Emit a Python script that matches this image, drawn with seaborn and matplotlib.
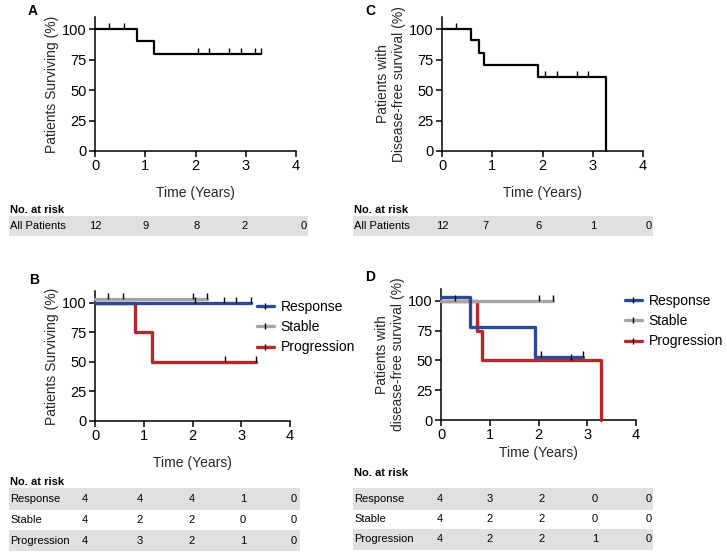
import matplotlib
matplotlib.use("Agg")
import matplotlib.pyplot as plt
import numpy as np
import pandas as pd
import seaborn as sns
from matplotlib.lines import Line2D
from matplotlib.patches import Rectangle

W, H = 727, 557

# ---- data ----
GROUPS = ["Response", "Stable", "Progression"]
COLORS = {"Response": "#2e4a94", "Stable": "#a6a6a6", "Progression": "#b5282a"}

# A: overall survival, all patients
a_time = [0, 0.83, 1.17, 3.3]
a_surv = [100, 90, 80, 80]
a_cens_time = [0.27, 0.58, 2.04, 2.27, 2.66, 2.9, 3.18, 3.3]
a_cens_surv = [100, 100, 80, 80, 80, 80, 80, 80]
a_risk = [12, 9, 8, 2, 0]

# C: disease-free survival, all patients
c_time = [0, 0.58, 0.73, 0.84, 1.92, 3.27]
c_surv = [100, 90.9, 80.8, 70.7, 60.6, 0]
c_cens_time = [0.28, 2.05, 2.28, 2.68, 2.9]
c_cens_surv = [100, 60.6, 60.6, 60.6, 60.6]
c_risk = [12, 7, 6, 1, 0]

# B: overall survival by response
b_time = {"Response": [0, 3.19], "Stable": [0, 2.29],
          "Progression": [0, 0.83, 1.17, 3.31]}
b_surv = {"Response": [100, 100], "Stable": [100, 100],
          "Progression": [100, 75, 50, 50]}
b_cens_time = {"Response": [2.05, 2.64, 2.9, 3.19],
               "Stable": [0.27, 0.58, 2.0, 2.29],
               "Progression": [2.67, 3.31]}
b_cens_surv = {"Response": [100, 100, 100, 100],
               "Stable": [100, 100, 100, 100],
               "Progression": [50, 50]}
b_risk = {"Response": [4, 4, 4, 1, 0], "Stable": [4, 2, 2, 0, 0],
          "Progression": [4, 3, 2, 1, 0]}

# D: disease-free survival by response
d_time = {"Response": [0, 0.59, 1.93, 2.91], "Stable": [0, 2.29],
          "Progression": [0, 0.73, 0.84, 3.28]}
d_surv = {"Response": [100, 75, 50, 50], "Stable": [100, 100],
          "Progression": [100, 75, 50, 0]}
d_cens_time = {"Response": [2.05, 2.91], "Stable": [0.29, 2.02, 2.29],
               "Progression": [2.67]}
d_cens_surv = {"Response": [50, 50], "Stable": [100, 100, 100],
               "Progression": [50]}
d_risk = {"Response": [4, 3, 2, 0, 0], "Stable": [4, 2, 2, 0, 0],
          "Progression": [4, 2, 2, 1, 0]}

# small vertical nudge so overlapping curves stay visible (as in the original)
b_offset = {"Response": 0, "Stable": 3, "Progression": 0}
d_offset = {"Response": 3, "Stable": 0, "Progression": 0}

# ---- style ----
sns.set_theme(style="ticks")
plt.rcParams["font.family"] = ["Liberation Sans", "DejaVu Sans"]
plt.rcParams.update({
    "axes.linewidth": 1.1,
    "xtick.major.width": 1.1, "ytick.major.width": 1.1,
    "xtick.major.size": 4, "ytick.major.size": 4,
    "xtick.labelsize": 10.5, "ytick.labelsize": 10.5,
    "axes.labelsize": 10,
    "xtick.color": "black", "ytick.color": "black",
    "axes.edgecolor": "black", "text.color": "black",
})

fig = plt.figure(figsize=(W / 100, H / 100), dpi=100)


def px_axes(left, top, right, bottom):
    return fig.add_axes([left / W, 1 - bottom / H,
                         (right - left) / W, (bottom - top) / H])


def style_km(ax, ylabel):
    ax.set_xlim(0, 4)
    ax.set_ylim(0, 110)
    ax.set_xticks(range(5))
    ax.set_yticks([0, 25, 50, 75, 100])
    ax.set_xlabel("Time (Years)", labelpad=9)
    ax.set_ylabel(ylabel, labelpad=2)
    ax.tick_params(pad=2)
    sns.despine(ax=ax)


def km(ax, t, s, ct, cs, color, lw, off=0):
    df = pd.DataFrame({"t": t, "s": np.array(s) + off})
    sns.lineplot(data=df, x="t", y="s", ax=ax, color=color, lw=lw,
                 drawstyle="steps-post", estimator=None, sort=False,
                 clip_on=False, zorder=3)
    cdf = pd.DataFrame({"t": ct, "s": np.array(cs) + off})
    sns.scatterplot(data=cdf, x="t", y="s", ax=ax, marker=2, s=16,
                    color="black", linewidth=1.0, clip_on=False, zorder=4)


# A
axA = px_axes(95, 17, 296, 151)
km(axA, a_time, a_surv, a_cens_time, a_cens_surv, "black", 1.6)
style_km(axA, "Patients Surviving (%)")

# C
axC = px_axes(442, 17, 643, 151)
km(axC, c_time, c_surv, c_cens_time, c_cens_surv, "black", 1.6)
style_km(axC, "Patients with\nDisease-free survival (%)")

# B
axB = px_axes(95, 291, 290, 421)
for g in ["Progression", "Stable", "Response"]:
    km(axB, b_time[g], b_surv[g], b_cens_time[g], b_cens_surv[g],
       COLORS[g], 2.4, b_offset[g])
style_km(axB, "Patients Surviving (%)")

# D
axD = px_axes(441, 289, 636, 420)
for g in ["Progression", "Stable", "Response"]:
    km(axD, d_time[g], d_surv[g], d_cens_time[g], d_cens_surv[g],
       COLORS[g], 2.4, d_offset[g])
style_km(axD, "Patients with\ndisease-free survival (%)")
axD.xaxis.labelpad = 3

handles = [Line2D([], [], color=COLORS[g], lw=2.4, marker="|",
                  markeredgecolor="black", markersize=4, markeredgewidth=1)
           for g in GROUPS]
for ax, anchor in [(axB, (257 / W, 1 - 300 / H)), (axD, (625 / W, 1 - 294 / H))]:
    ax.legend(handles, GROUPS, loc="upper left", bbox_to_anchor=anchor,
              bbox_transform=fig.transFigure, frameon=False, fontsize=10,
              handlelength=1.2, handletextpad=0.5, labelspacing=0.45,
              borderaxespad=0, borderpad=0)

# panel letters
for letter, x, y in [("A", 33, 11), ("C", 370, 11), ("B", 34, 280), ("D", 370, 277)]:
    fig.text(x / W, 1 - y / H, letter, fontsize=10, fontweight="bold",
             ha="center", va="center")

# ---- number at risk tables ----
tab = fig.add_axes([0, 0, 1, 1])
tab.set_xlim(0, W)
tab.set_ylim(H, 0)
tab.axis("off")
tab.patch.set_visible(False)
BAND = "#e1e0e1"
TFS = 8


def risk_table(x0, x1, head_y, rows, cols):
    tab.text(x0 + 1, head_y, "No. at risk", fontsize=TFS, fontweight="bold",
             va="center", ha="left")
    for i, (label, y0, y1, vals) in enumerate(rows):
        if i % 2 == 0:
            tab.add_patch(Rectangle((x0, y0), x1 - x0, y1 - y0, color=BAND,
                                    lw=0, zorder=0))
        yc = (y0 + y1) / 2
        tab.text(x0 + 1, yc, label, fontsize=TFS, va="center", ha="left")
        for cx, v in zip(cols, vals):
            tab.text(cx, yc, str(v), fontsize=TFS, va="center", ha="center")


risk_table(9, 308, 210, [("All Patients", 216, 236, a_risk)],
           [95, 146, 197, 245, 304])
risk_table(353, 653, 210, [("All Patients", 216, 236, c_risk)],
           [442, 485, 538, 593, 649])
risk_table(9, 300, 482,
           [(g, y0, y1, b_risk[g]) for g, (y0, y1) in
            zip(GROUPS, [(488, 510), (510, 530), (530, 551)])],
           [85, 140, 192, 243, 294])
risk_table(353, 653, 473,
           [(g, y0, y1, d_risk[g]) for g, (y0, y1) in
            zip(GROUPS, [(488, 510), (510, 529), (529, 550)])],
           [440, 490, 542, 595, 649])

fig.savefig("out.png", dpi=100)
